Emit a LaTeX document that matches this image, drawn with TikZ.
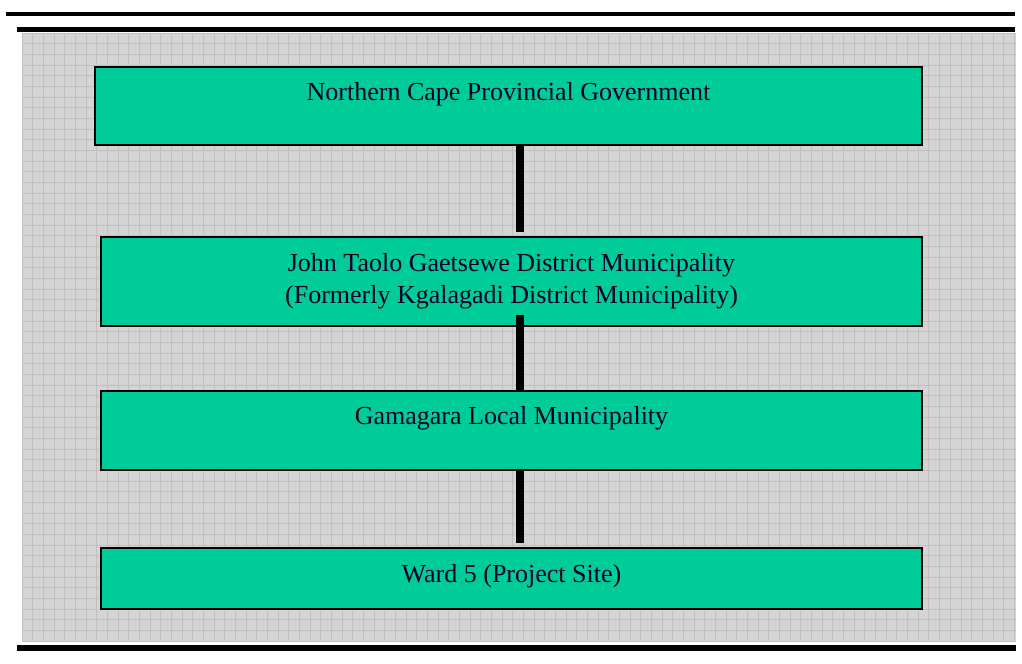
\documentclass[tikz,border=0pt]{standalone}
\usepackage{fontspec}
\setmainfont{Liberation Serif}
\definecolor{boxgreen}{RGB}{0,204,153}
\definecolor{bggray}{RGB}{212,212,212}
\definecolor{gridgray}{RGB}{192,192,192}
\tikzset{
  box/.style={draw=black, line width=1.6pt, fill=boxgreen, inner sep=0pt},
  boxtext/.style={font=\fontsize{19.5}{24}\selectfont, align=center, text=black!85!blue, inner sep=0pt, anchor=base},
  rule/.style={line width=#1, black},
  conn/.style={line width=6pt, black},
}
\begin{document}
\begin{tikzpicture}[x=0.75pt,y=-0.75pt]
\useasboundingbox (0,0) rectangle (1022,664);
% background texture
\fill[bggray] (22,33) rectangle (1016,641);
\foreach \i in {0,...,93} {
  \draw[gridgray, line width=0.7pt] ({22+10.67*\i},33) -- ({22+10.67*\i},641);
}
\foreach \j in {0,...,57} {
  \draw[gridgray, line width=0.7pt] (22,{33+10.67*\j}) -- (1016,{33+10.67*\j});
}
% rules
\draw[rule=3pt] (6,14) -- (1015,14);
\draw[rule=3.8pt] (17,29.5) -- (1015,29.5);
\draw[rule=3.8pt] (17,648) -- (1016,648);
% boxes
\node[box, minimum width=620.25pt, minimum height=58.5pt] (b1) at (508.5,106) {};
\node[box, minimum width=615.75pt, minimum height=66.75pt] (b2) at (511.5,281.5) {};
\node[box, minimum width=615.75pt, minimum height=59.25pt] (b3) at (511.5,430.5) {};
\node[box, minimum width=615.75pt, minimum height=45.75pt] (b4) at (511.5,578.5) {};
% texts
\node[boxtext] (t1) at (508.5,100) {Northern Cape Provincial Government};
\node[boxtext] (t2) at (511.5,303) {John Taolo Gaetsewe District Municipality\\(Formerly Kgalagadi District Municipality)};
\node[boxtext] (t3) at (511.5,424) {Gamagara Local Municipality};
\node[boxtext] (t4) at (511.5,582) {Ward 5 (Project Site)};
% connectors
\coordinate (c1) at (520,232);
\coordinate (c2) at (520,315);
\coordinate (c3) at (520,543);
\draw[conn] (b1.south -| c1) -- (c1);
\draw[conn] (c2) -- (b3.north -| c2);
\draw[conn] (b3.south -| c3) -- (c3);
\end{tikzpicture}
\end{document}
